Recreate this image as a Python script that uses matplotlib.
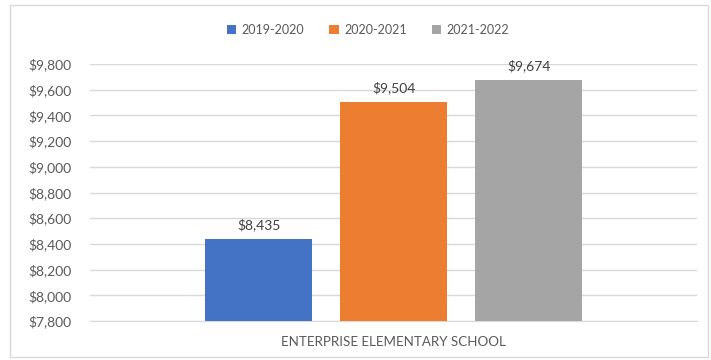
import matplotlib
matplotlib.use("Agg")
import matplotlib.pyplot as plt
from matplotlib.patches import Rectangle
from matplotlib.ticker import FuncFormatter

category = "ENTERPRISE ELEMENTARY SCHOOL"
series = ["2019-2020", "2020-2021", "2021-2022"]
values = [8435, 9504, 9674]
colors = ["#4472C4", "#ED7D31", "#A5A5A5"]
yticks = list(range(7800, 9801, 200))

plt.rcParams['font.family'] = ['Lato', 'DejaVu Sans']
txt = "#595959"

fig = plt.figure(figsize=(7.11, 3.6), dpi=100)
fig.patches.append(Rectangle((10/711, 3/360), 698/711, 352/360, transform=fig.transFigure,
                             fill=False, edgecolor="#D9D9D9", linewidth=1.0))
ax = fig.add_axes([90/711, 1-321/360, 607/711, (321-64)/360])

width = 0.1763
step = 0.2224
for i, (s, v, c) in enumerate(zip(series, values, colors)):
    x = 0.5 + (i - 1) * step
    ax.bar(x, v, width=width, color=c, label=s, zorder=3, bottom=0)
    ax.annotate(f"${v:,}", (x, v), xytext=(0, 6), textcoords="offset points",
                ha="center", va="bottom", fontsize=10, color="#404040")

ax.set_xlim(0, 1)
ax.set_ylim(7800, 9800)
ax.set_yticks(yticks)
ax.yaxis.set_major_formatter(FuncFormatter(lambda v, p: f"${int(v):,}"))
ax.set_xticks([0.5])
ax.set_xticklabels([category])
ax.tick_params(axis="both", length=0, colors=txt, labelsize=10)
ax.tick_params(axis="y", pad=13.5)
ax.tick_params(axis="x", pad=11, labelsize=9.6)
ax.grid(axis="y", color="#D9D9D9", linewidth=1, zorder=0)
for sp in ax.spines.values():
    sp.set_visible(False)
ax.spines["bottom"].set_visible(True)
ax.spines["bottom"].set_color("#D9D9D9")

leg = fig.legend(loc="center", bbox_to_anchor=(368/711, 1-30/360), ncol=3, frameon=False,
                 fontsize=9, handlelength=0.75, handleheight=0.75, columnspacing=2.0,
                 handletextpad=0.45)
for t in leg.get_texts():
    t.set_color(txt)

fig.savefig("out.png", dpi=100)
